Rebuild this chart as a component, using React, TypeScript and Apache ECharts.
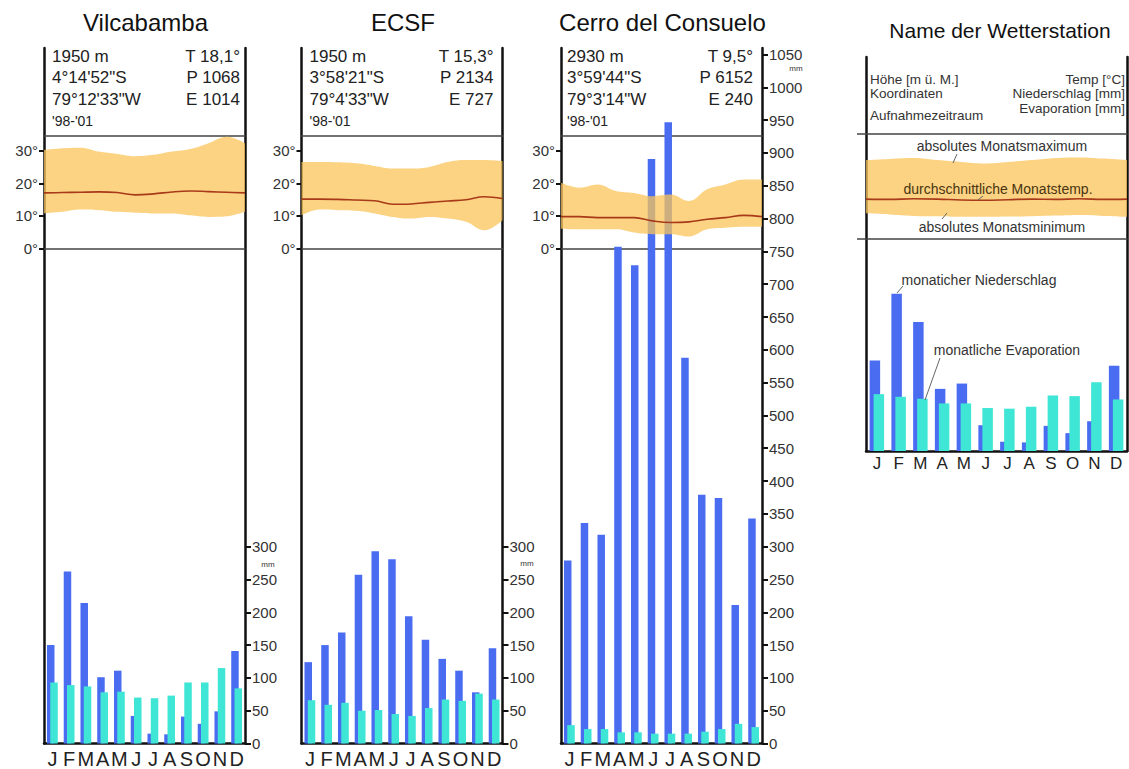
import React, { useEffect, useRef } from "react";
import * as echarts from "echarts";

const MONTHS = ["J", "F", "M", "A", "M", "J", "J", "A", "S", "O", "N", "D"];

// Vilcabamba
const VIL_P = [150, 262, 214, 101, 111, 42, 15, 14, 41, 30, 49, 141];
const VIL_E = [93, 89, 87, 78, 79, 70, 69, 73, 93, 93, 115, 84];
const VIL_TMAX = [30.3, 30.8, 31.0, 29.8, 29.1, 28.4, 28.8, 29.8, 30.6, 32.4, 34.4, 32.4];
const VIL_TMIN = [10.8, 11.3, 12.0, 11.8, 11.3, 11.0, 10.8, 10.8, 10.2, 9.7, 9.9, 11.3];
const VIL_TMEAN = [17.1, 17.2, 17.3, 17.4, 17.2, 16.5, 16.8, 17.4, 17.7, 17.5, 17.3, 17.1];

// ECSF
const ECSF_P = [124, 150, 169, 257, 293, 281, 194, 158, 129, 111, 78, 145];
const ECSF_E = [66, 59, 62, 50, 51, 45, 42, 54, 67, 65, 76, 67];
const ECSF_TMAX = [26.6, 26.6, 26.5, 26.2, 25.4, 24.6, 24.6, 25.1, 26.6, 27.2, 27.2, 26.9];
const ECSF_TMIN = [10.2, 12.0, 11.8, 11.6, 10.8, 9.7, 9.2, 9.7, 9.2, 8.2, 5.6, 8.7];
const ECSF_TMEAN = [15.2, 15.2, 15.1, 14.9, 14.7, 13.6, 13.7, 14.2, 14.6, 15.0, 15.9, 15.4];

// Cerro del Consuelo
const CER_P = [279, 336, 318, 757, 729, 891, 947, 588, 379, 374, 211, 343];
const CER_E = [28, 22, 22, 17, 17, 15, 15, 15, 18, 22, 30, 25];
const CER_TMAX = [20.2, 18.7, 19.7, 17.7, 17.1, 16.1, 16.6, 14.6, 18.2, 19.7, 21.2, 21.2];
const CER_TMIN = [6.1, 5.9, 5.9, 5.9, 4.9, 4.4, 4.4, 3.7, 5.9, 6.4, 6.7, 6.7];
const CER_TMEAN = [9.8, 9.8, 9.5, 9.5, 9.5, 8.5, 8.0, 8.2, 9.0, 9.5, 10.2, 9.8];

// Legend (schematic station)
const LEG_P = [137, 238, 195, 94, 102, 39, 14, 13, 38, 27, 45, 129];
const LEG_E = [86, 82, 79, 72, 72, 65, 64, 67, 84, 83, 104, 78];
const LEG_TMAX = [26.3, 26.7, 27.0, 26.3, 25.7, 25.2, 25.7, 26.3, 27.0, 27.2, 26.8, 26.3];
const LEG_TMIN = [8.6, 8.2, 7.7, 7.6, 7.4, 7.4, 7.5, 7.6, 7.8, 8.0, 7.7, 7.4];
const LEG_TMEAN = [13.3, 13.2, 13.4, 13.3, 13.0, 12.9, 13.1, 13.3, 13.2, 13.4, 13.2, 13.3];

// Tick labels
const TEMP_TICKS = [0, 10, 20, 30];
const PRECIP_TICKS_SHORT = [0, 50, 100, 150, 200, 250, 300];
const PRECIP_TICKS_LONG = [
  0, 50, 100, 150, 200, 250, 300, 350, 400, 450, 500, 550, 600, 650, 700, 750, 800, 850, 900, 950, 1000, 1050,
];

const FONT = "Liberation Sans, Arial, sans-serif";
const BLUE = "#4a6cf0";
const CYAN = "#3fe6d6";
const BAND = "rgba(250,196,90,0.75)";
const MEAN = "#a83a1a";

type PanelCfg = {
  left: number;
  width: number;
  title: string;
  P: number[];
  E: number[];
  tmax: number[];
  tmin: number[];
  tmean: number[];
  ticks: number[];
  infoL: string[];
  infoR: string[];
  rOff: number;
  lOff: number;
  mmX: number;
  mmY: number;
};

const PANELS: PanelCfg[] = [
  {
    left: 44, width: 201, title: "Vilcabamba", P: VIL_P, E: VIL_E, tmax: VIL_TMAX, tmin: VIL_TMIN, tmean: VIL_TMEAN,
    ticks: PRECIP_TICKS_SHORT, infoL: ["1950 m", "4°14'52\"S", "79°12'33\"W", "'98-'01"],
    infoR: ["T 18,1°", "P 1068", "E 1014"], rOff: 5, lOff: 8, mmX: 268, mmY: 564,
  },
  {
    left: 301.5, width: 201, title: "ECSF", P: ECSF_P, E: ECSF_E, tmax: ECSF_TMAX, tmin: ECSF_TMIN, tmean: ECSF_TMEAN,
    ticks: PRECIP_TICKS_SHORT, infoL: ["1950 m", "3°58'21\"S", "79°4'33\"W", "'98-'01"],
    infoR: ["T 15,3°", "P 2134", "E 727"], rOff: 9, lOff: 8, mmX: 527, mmY: 563,
  },
  {
    left: 561, width: 201, title: "Cerro del Consuelo", P: CER_P, E: CER_E, tmax: CER_TMAX, tmin: CER_TMIN, tmean: CER_TMEAN,
    ticks: PRECIP_TICKS_LONG, infoL: ["2930 m", "3°59'44\"S", "79°3'14\"W", "'98-'01"],
    infoR: ["T 9,5°", "P 6152", "E 240"], rOff: 9, lOff: 6, mmX: 796, mmY: 68,
  },
];

function buildOption() {
  const grid: any[] = [];
  const xAxis: any[] = [];
  const yAxis: any[] = [];
  const series: any[] = [];
  const graphic: any[] = [];

  const frameLine = { show: true, lineStyle: { color: "#111", width: 2.5 } };

  const addTempBlock = (
    left: number, width: number, top: number, height: number, max: number,
    tmax: number[], tmin: number[], tmean: number[], showAxis: boolean, id: string, legendTicks: boolean
  ) => {
    const g = grid.length;
    grid.push({ left, top, width, height });
    const xb = xAxis.length;
    xAxis.push({
      gridIndex: g, type: "category", data: MONTHS, boundaryGap: false, position: "bottom",
      axisLine: { show: true, lineStyle: { color: "#444", width: 1.5 } },
      axisTick: { show: false }, axisLabel: { show: false }, splitLine: { show: false },
    });
    xAxis.push({
      gridIndex: g, type: "category", data: MONTHS, boundaryGap: false, position: "top",
      axisLine: { show: true, lineStyle: { color: "#444", width: 1.5 } },
      axisTick: { show: false }, axisLabel: { show: false }, splitLine: { show: false },
    });
    const yi = yAxis.length;
    if (showAxis) {
      yAxis.push({
        gridIndex: g, type: "value", min: 0, max, position: "left",
        axisLine: { show: false },
        axisTick: { show: true, length: 5, customValues: TEMP_TICKS, lineStyle: { color: "#111", width: 2 } },
        axisLabel: {
          show: true, customValues: TEMP_TICKS, formatter: (v: number) => String(v) + "°",
          fontSize: 15, color: "#333", margin: 6, fontFamily: FONT,
        },
        splitLine: { show: false },
      });
    } else {
      yAxis.push({
        gridIndex: g, type: "value", min: 0, max, position: "left",
        axisLine: { show: false },
        axisTick: { show: legendTicks, length: 9, customValues: [0, max], lineStyle: { color: "#444", width: 1.5 } },
        axisLabel: { show: false }, splitLine: { show: false },
      });
    }
    const base = {
      type: "line", xAxisIndex: xb, yAxisIndex: yi, symbol: "none", smooth: 0.4, z: 4, silent: true,
    };
    series.push({ ...base, name: id + "min", stack: id, data: tmin, lineStyle: { width: 0, opacity: 0 } });
    series.push({
      ...base, name: id + "range", stack: id,
      data: tmax.map((v, i) => +(v - tmin[i]).toFixed(2)),
      lineStyle: { width: 0, opacity: 0 }, areaStyle: { color: BAND, opacity: 1 },
    });
    series.push({ ...base, name: id + "mean", data: tmean, z: 5, lineStyle: { color: MEAN, width: 1.6 } });
  };

  PANELS.forEach((p, pi) => {
    // precipitation grid
    const g = grid.length;
    grid.push({ left: p.left, top: 48, width: p.width, height: 695.5 });
    const xi = xAxis.length;
    xAxis.push({
      gridIndex: g, type: "category", data: MONTHS,
      axisLine: frameLine, axisTick: { show: false },
      axisLabel: { interval: 0, fontSize: 20, color: "#222", margin: 5, fontFamily: FONT },
    });
    const yr = yAxis.length;
    yAxis.push({
      gridIndex: g, type: "value", min: 0, max: 1060, position: "right",
      axisLine: frameLine,
      axisTick: { show: true, length: 6, customValues: p.ticks, lineStyle: { color: "#111", width: 2 } },
      axisLabel: {
        show: true, customValues: p.ticks, formatter: (v: number) => String(v),
        fontSize: 15, color: "#333", margin: 7, fontFamily: FONT,
      },
      splitLine: { show: false },
    });
    yAxis.push({
      gridIndex: g, type: "value", min: 0, max: 1060, position: "left",
      axisLine: frameLine, axisTick: { show: false }, axisLabel: { show: false }, splitLine: { show: false },
    });
    series.push({
      type: "bar", name: "P" + pi, xAxisIndex: xi, yAxisIndex: yr, data: p.P, barWidth: 7.5,
      itemStyle: { color: BLUE }, z: 2,
    });
    series.push({
      type: "bar", name: "E" + pi, xAxisIndex: xi, yAxisIndex: yr, data: p.E, barWidth: 7.5, barGap: "-56%",
      itemStyle: { color: CYAN }, z: 2,
    });
    addTempBlock(p.left, p.width, 136, 112.5, 34.6, p.tmax, p.tmin, p.tmean, true, "t" + pi, false);

    // texts
    graphic.push({
      type: "text", x: p.left + p.width / 2 + 1, y: 22,
      style: { text: p.title, fontSize: 24, fontFamily: FONT, fill: "#111", textAlign: "center", textVerticalAlign: "middle" },
    });
    p.infoL.forEach((t, i) => {
      graphic.push({
        type: "text", x: p.left + p.lOff, y: 56 + i * 21.5,
        style: {
          text: t, fontSize: i === 3 ? 14 : 17, fontFamily: FONT, fill: "#222",
          textAlign: "left", textVerticalAlign: "middle",
        },
      });
    });
    p.infoR.forEach((t, i) => {
      graphic.push({
        type: "text", x: p.left + p.width - p.rOff, y: 56 + i * 21.5,
        style: { text: t, fontSize: 17, fontFamily: FONT, fill: "#222", textAlign: "right", textVerticalAlign: "middle" },
      });
    });
    graphic.push({
      type: "text", x: p.mmX, y: p.mmY,
      style: { text: "mm", fontSize: 8, fontFamily: FONT, fill: "#333", textAlign: "center", textVerticalAlign: "middle" },
    });
  });

  // Legend panel
  const LL = 866, LW = 261;
  const gl = grid.length;
  grid.push({ left: LL, top: 57, width: LW, height: 394 });
  const xl = xAxis.length;
  xAxis.push({
    gridIndex: gl, type: "category", data: MONTHS,
    axisLine: frameLine, axisTick: { show: false },
    axisLabel: { interval: 0, fontSize: 17, color: "#222", margin: 4, fontFamily: FONT },
  });
  const yl = yAxis.length;
  yAxis.push({
    gridIndex: gl, type: "value", min: 0, max: 596, position: "right",
    axisLine: frameLine, axisTick: { show: false }, axisLabel: { show: false }, splitLine: { show: false },
  });
  yAxis.push({
    gridIndex: gl, type: "value", min: 0, max: 596, position: "left",
    axisLine: frameLine, axisTick: { show: false }, axisLabel: { show: false }, splitLine: { show: false },
  });
  series.push({
    type: "bar", name: "PL", xAxisIndex: xl, yAxisIndex: yl, data: LEG_P, barWidth: 10.5,
    itemStyle: { color: BLUE }, z: 2,
  });
  series.push({
    type: "bar", name: "EL", xAxisIndex: xl, yAxisIndex: yl, data: LEG_E, barWidth: 10.5, barGap: "-62%",
    itemStyle: { color: CYAN }, z: 2,
  });
  addTempBlock(LL, LW, 134, 105, 35, LEG_TMAX, LEG_TMIN, LEG_TMEAN, false, "tl", true);

  const txt = (text: string, x: number, y: number, size: number, align: string, fill = "#333") => ({
    type: "text", x, y, z: 10,
    style: { text, fontSize: size, fontFamily: FONT, fill, textAlign: align, textVerticalAlign: "middle" },
  });
  const ln = (x1: number, y1: number, x2: number, y2: number) => ({
    type: "line", z: 10, shape: { x1, y1, x2, y2 }, style: { stroke: "#666", lineWidth: 1 },
  });
  graphic.push(txt("Name der Wetterstation", 1000, 30, 21, "center", "#111"));
  graphic.push(txt("Höhe [m ü. M.]", 870, 79, 13.5, "left"));
  graphic.push(txt("Koordinaten", 870, 93, 13.5, "left"));
  graphic.push(txt("Aufnahmezeitraum", 870, 115, 13.5, "left"));
  graphic.push(txt("Temp [°C]", 1125, 79, 13.5, "right"));
  graphic.push(txt("Niederschlag [mm]", 1125, 93.5, 13.5, "right"));
  graphic.push(txt("Evaporation [mm]", 1125, 108.5, 13.5, "right"));
  graphic.push(txt("absolutes Monatsmaximum", 1002, 146, 14, "center"));
  graphic.push(txt("durchschnittliche Monatstemp.", 998, 189, 14, "center", "#4a3510"));
  graphic.push(txt("absolutes Monatsminimum", 1002, 227, 14, "center"));
  graphic.push(txt("monaticher Niederschlag", 979, 280, 14, "center"));
  graphic.push(txt("monatliche Evaporation", 1007, 350, 14, "center"));
  graphic.push(ln(957, 154, 953, 163));
  graphic.push(ln(983, 196, 978, 200));
  graphic.push(ln(947, 213, 942, 219));
  graphic.push(ln(903, 286, 897, 293));
  graphic.push(ln(940, 358, 925, 400));

  return {
    animation: false,
    backgroundColor: "#ffffff",
    grid, xAxis, yAxis, series, graphic,
  };
}

export default function App() {
  const ref = useRef<HTMLDivElement>(null);
  useEffect(() => {
    if (!ref.current) return;
    const chart = echarts.init(ref.current, undefined, { renderer: "svg" });
    chart.setOption(buildOption() as any);
    return () => chart.dispose();
  }, []);
  return <div ref={ref} style={{ position: "absolute", left: 0, top: 0, width: 1129, height: 769, background: "#fff" }} />;
}
